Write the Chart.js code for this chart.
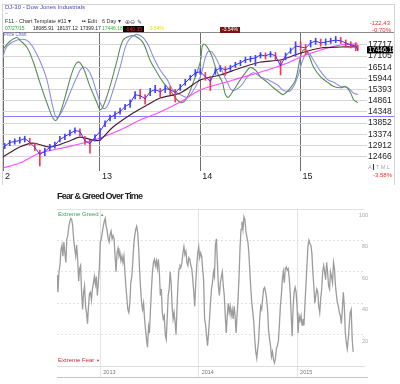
<!DOCTYPE html>
<html>
<head>
<meta charset="utf-8">
<script src="https://cdn.jsdelivr.net/npm/chart.js@4.4.1/dist/chart.umd.min.js"></script>
<style>
body { margin: 0; width: 400px; height: 384px; background: #fff; position: relative; overflow: hidden; font-family: "Liberation Sans", Arial, sans-serif; }
canvas { position: absolute; left: 0; }
.t { position: absolute; white-space: nowrap; line-height: 1; }
</style>
</head>
<body>
<canvas id="price" width="400" height="185" style="top:0"></canvas>
<canvas id="fear" width="400" height="184" style="top:200px"></canvas>

<div style="position:absolute;left:2px;top:4px;width:391px;height:180px;border:1px solid #d4d4d4;border-bottom:none"></div>
<div style="position:absolute;left:3px;top:32px;width:391px;border-top:1px solid #8a8a8a"></div>
<div class="t" style="left:5px;top:4.2px;font-size:6px;color:#4a4ac4">DJ-30 - Dow Jones Industrials</div>
<div class="t" style="left:5px;top:11px;font-size:5px;color:#999">~</div>
<div class="t" style="left:5px;top:19.3px;font-size:5.5px;color:#333">F11 - Chart Template #11 ▾</div>
<div class="t" style="left:82px;top:19.3px;font-size:5.5px;color:#333"><b>▪▪</b> Edit</div>
<div class="t" style="left:102px;top:19.3px;font-size:5.5px;color:#333">6 Day ▾</div>
<div class="t" style="left:125px;top:18.8px;font-size:6px;color:#555">⊕⊖ ✎</div>
<div class="t" style="left:5px;top:26.4px;font-size:5px;color:#22a022">07/27/15</div>
<div class="t" style="left:33px;top:26.4px;font-size:5px;color:#222">18085.91</div>
<div class="t" style="left:57px;top:26.4px;font-size:5px;color:#222">18137.12</div>
<div class="t" style="left:80px;top:26.4px;font-size:5px;color:#222">17399.17</div>
<div class="t" style="left:102px;top:26.4px;font-size:5px;color:#2cb82c">17446.18</div>
<div class="t" style="left:123px;top:26px;font-size:5px;color:#ff2a2a;background:#000;padding:0.5px 2px">-640.35</div>
<div class="t" style="left:148px;top:26.4px;font-size:5px;color:#e4e400">-3.54%</div>
<div class="t" style="left:220px;top:26.8px;font-size:5px;color:#fff;background:#7a1414;padding:0.5px 2px">-3.54%</div>
<div class="t" style="right:10px;top:20.2px;font-size:6px;color:#ff2a2a">-122.43</div>
<div class="t" style="right:9px;top:27.2px;font-size:6px;color:#ff2a2a">-0.70%</div>
<div class="t" style="left:4px;top:32.8px;font-size:4.5px;color:#6060d0">Price Chart</div>
<div class="t" style="left:368px;top:164.5px;font-size:5.5px;color:#aaa">A <span style="background:#2222ff;color:#2222ff">I</span> T M L</div>
<div class="t" style="right:8px;top:172.2px;font-size:6px;color:#ff2a2a">-3.58%</div>

<div class="t" style="left:57px;top:191.8px;font-size:9px;font-weight:bold;letter-spacing:-0.8px;color:#222">Fear &amp; Greed Over Time</div>
<div class="t" style="left:58px;top:211.2px;font-size:6px;color:#3aa35a">Extreme Greed <span style="font-size:4px">▲</span></div>
<div class="t" style="left:58px;top:357.2px;font-size:6px;color:#d0283c">Extreme Fear <span style="font-size:4px">▼</span></div>
<div style="position:absolute;left:57px;top:376.5px;width:311px;border-top:1.5px solid #c4c4c4"></div>

<script>
// Dow Jones Industrials, 6-day bars
const priceYears = [2012.05, 2012.10, 2012.15, 2012.20, 2012.25, 2012.30, 2012.35, 2012.40, 2012.45, 2012.50, 2012.55, 2012.60, 2012.65, 2012.70, 2012.75, 2012.80, 2012.85, 2012.90, 2012.95,
  2013.00, 2013.05, 2013.10, 2013.15, 2013.20, 2013.25, 2013.30, 2013.35, 2013.40, 2013.45, 2013.50, 2013.55, 2013.60, 2013.65, 2013.70, 2013.75, 2013.80, 2013.85, 2013.90, 2013.95,
  2014.00, 2014.05, 2014.10, 2014.15, 2014.20, 2014.25, 2014.30, 2014.35, 2014.40, 2014.45, 2014.50, 2014.55, 2014.60, 2014.65, 2014.70, 2014.75, 2014.80, 2014.85, 2014.90, 2014.95,
  2015.00, 2015.05, 2015.10, 2015.15, 2015.20, 2015.25, 2015.30, 2015.35, 2015.40, 2015.45, 2015.50, 2015.55, 2015.57];
const priceClose = [12880, 13030, 13070, 13110, 13195, 13030, 12830, 12550, 12670, 12830, 12910, 13150, 13280, 13400, 13530, 13490, 13100, 12980, 13250,
  13490, 13830, 14090, 14230, 14360, 14590, 14730, 15150, 15100, 14960, 15290, 15390, 15290, 15440, 15390, 15250, 15490, 15730, 15980, 16230,
  16280, 16030, 15800, 16330, 16490, 16380, 16490, 16640, 16750, 16900, 16960, 17010, 17170, 17120, 17230, 17120, 16590, 17120, 17390, 17660,
  17610, 17550, 17830, 17940, 17830, 17880, 17940, 17990, 17950, 17830, 17720, 17660, 17446.18];
const priceHigh = [12990, 13120, 13180, 13250, 13290, 13200, 12990, 12720, 12800, 12950, 13050, 13280, 13380, 13550, 13650, 13600, 13280, 13120, 13350,
  13620, 13950, 14200, 14350, 14520, 14700, 14900, 15300, 15400, 15150, 15450, 15600, 15450, 15600, 15550, 15400, 15650, 15900, 16100, 16400,
  16480, 16250, 16050, 16450, 16600, 16550, 16620, 16780, 16880, 17050, 17100, 17150, 17300, 17280, 17350, 17300, 16900, 17280, 17550, 17900,
  17900, 17750, 17980, 18100, 18050, 18060, 18100, 18200, 18150, 18000, 17900, 17850, 17700];
const priceLow = [12780, 12900, 12960, 13000, 13050, 12930, 12700, 12100, 12500, 12700, 12800, 13050, 13150, 13300, 13420, 13300, 12950, 12600, 13080,
  13100, 13700, 13950, 14050, 14250, 14450, 14550, 14950, 14950, 14700, 15100, 15250, 15050, 15250, 15150, 14800, 15350, 15600, 15850, 16050,
  16150, 15850, 15350, 16150, 16300, 16100, 16350, 16500, 16600, 16750, 16800, 16600, 17000, 16950, 17050, 16900, 16120, 16900, 17250, 17100,
  17400, 17200, 17600, 17750, 17650, 17700, 17800, 17850, 17800, 17600, 17550, 17400, 17399.17];

const maSlowYears = [2012.03, 2012.20, 2012.33, 2012.50, 2012.67, 2012.80, 2012.93, 2013.00, 2013.13, 2013.33, 2013.47, 2013.60, 2013.80, 2014.00, 2014.20, 2014.40, 2014.60, 2014.80, 2015.00, 2015.20, 2015.40, 2015.57];
const maSlow = [12445, 12844, 13006, 12844, 13048, 13255, 13130, 13130, 13680, 14299, 14664, 14992, 15230, 15867, 16119, 16478, 16793, 16899, 17276, 17550, 17606, 17606];
const maLongYears = [2012.03, 2012.20, 2012.40, 2012.67, 2012.87, 2013.00, 2013.20, 2013.40, 2013.60, 2013.80, 2014.00, 2014.33, 2014.67, 2014.87, 2015.00, 2015.20, 2015.40, 2015.57];
const maLong = [12023, 12212, 12603, 12844, 13048, 13213, 13551, 13986, 14344, 14800, 15374, 15867, 16375, 16740, 17060, 17440, 17717, 17773];

const oscGreenYears = [2012.03, 2012.10, 2012.17, 2012.20, 2012.27, 2012.33, 2012.40, 2012.47, 2012.55, 2012.60, 2012.67, 2012.73, 2012.78, 2012.83, 2012.90, 2012.97,
  2013.00, 2013.03, 2013.10, 2013.17, 2013.23, 2013.30, 2013.35, 2013.43, 2013.50, 2013.57, 2013.63, 2013.70, 2013.77, 2013.82, 2013.87, 2013.93,
  2014.00, 2014.03, 2014.10, 2014.17, 2014.22, 2014.25, 2014.28, 2014.33, 2014.40, 2014.47, 2014.50, 2014.55, 2014.60, 2014.67, 2014.73, 2014.80, 2014.83, 2014.90, 2014.95,
  2015.00, 2015.03, 2015.07, 2015.13, 2015.20, 2015.27, 2015.33, 2015.40, 2015.45, 2015.50, 2015.53, 2015.57];
const oscGreen = [87, 93, 96, 94, 89, 79, 63, 48, 35, 40, 57, 72, 78, 74, 60, 48,
  43, 45, 60, 79, 94, 97, 97, 92, 79, 70, 63, 57, 50, 48, 52, 63,
  78, 91, 85, 70, 63, 54, 52, 57, 65, 72, 74, 72, 67, 63, 59, 55, 54, 59, 65,
  82, 87, 85, 74, 67, 63, 60, 59, 60, 55, 50, 48];
const oscPurpleYears = [2012.03, 2012.07, 2012.17, 2012.27, 2012.33, 2012.40, 2012.47, 2012.53, 2012.57, 2012.63, 2012.70, 2012.77, 2012.83, 2012.90, 2012.97,
  2013.03, 2013.07, 2013.13, 2013.20, 2013.27, 2013.35, 2013.41, 2013.47, 2013.53, 2013.60, 2013.67, 2013.73, 2013.80, 2013.87, 2013.93,
  2014.00, 2014.07, 2014.12, 2014.20, 2014.27, 2014.32, 2014.40, 2014.47, 2014.53, 2014.60, 2014.67, 2014.77, 2014.83, 2014.90, 2014.97,
  2015.02, 2015.07, 2015.13, 2015.20, 2015.27, 2015.33, 2015.40, 2015.47, 2015.53, 2015.57];
const oscPurple = [81, 89, 94, 94, 89, 79, 65, 45, 37, 43, 55, 67, 74, 70, 55,
  44, 45, 57, 74, 92, 98, 97, 92, 82, 72, 65, 57, 54, 52, 57,
  67, 85, 85, 74, 63, 57, 60, 67, 70, 67, 65, 61, 57, 57, 67,
  79, 85, 79, 71, 65, 63, 60, 59, 55, 54];
const oscRefLevel = 38;

const priceTicks = [12466, 12912, 13374, 13852, 14348, 14861, 15393, 15944, 16514, 17105, 17717];
const yearTicks = [2013, 2014, 2015];

// CNN Fear & Greed index, one reading every 0.01 year from mid 2012
const fgStartYear = 2012.56;
const fgStepYear = 0.01;
const fgValues = [
  58, 47, 60, 64, 74, 77, 70, 79, 72, 66,
  81, 83, 89, 92, 94, 93, 89, 80, 75, 70,
  77, 68, 54, 62, 64, 47, 36, 47, 51, 38,
  34, 27, 38, 46, 47, 42, 49, 53, 57, 52,
  57, 45, 53, 62, 79, 81, 85, 89, 92, 94,
  89, 86, 81, 79, 84, 86, 81, 83, 81, 70,
  60, 72, 75, 70, 72, 67, 70, 66, 70, 60,
  51, 43, 36, 34, 40, 53, 57, 66, 77, 83,
  87, 89, 85, 75, 60, 49, 40, 36, 40, 30,
  23, 17, 12, 25, 21, 36, 49, 60, 66, 68,
  64, 67, 62, 68, 60, 45, 49, 34, 30, 32,
  20, 17, 30, 45, 49, 60, 53, 38, 30, 34,
  28, 20, 38, 53, 62, 64, 63, 66, 72, 76,
  71, 73, 66, 64, 69, 68, 64, 62, 55, 47,
  38, 53, 64, 72, 76, 69, 72, 70, 62, 55,
  30, 26, 19, 13, 21, 30, 40, 49, 53, 60,
  57, 77, 81, 66, 51, 45, 53, 57, 60, 51,
  45, 32, 21, 32, 40, 34, 38, 32, 36, 30,
  38, 32, 21, 32, 43, 57, 75, 87, 92, 87,
  95, 93, 86, 82, 79, 72, 60, 49, 40, 34,
  28, 17, 9, 5, 11, 17, 30, 38, 36, 43,
  49, 50, 47, 43, 36, 23, 17, 13, 6, 9,
  4, 2, 5, 11, 13, 16, 26, 38, 45, 55,
  60, 53, 62, 63, 61, 62, 56, 47, 32, 19,
  38, 47, 50, 47, 38, 21, 32, 29, 32, 26,
  30, 26, 40, 51, 64, 76, 80, 78, 77, 72,
  60, 51, 40, 45, 49, 47, 38, 34, 43, 49,
  60, 64, 60, 55, 66, 60, 51, 49, 60, 57,
  53, 66, 62, 51, 45, 40, 38, 34, 32, 27,
  36, 47, 38, 21, 15, 11, 17, 26, 34, 36,
  17, 9];
const fgTicks = [0, 20, 40, 60, 80, 100];

Chart.defaults.font.family = '"Liberation Sans", Arial, sans-serif';
Chart.defaults.animation = false;

function pairs(xs, ys) {
  return ys.map((v, i) => ({ x: xs[i], y: v }));
}

const refLine = {
  id: 'refLine',
  beforeDatasetsDraw(chart) {
    const c = chart.ctx;
    const y = Math.round(chart.scales.osc.getPixelForValue(oscRefLevel)) + 0.5;
    c.save();
    c.strokeStyle = '#8282ff';
    c.lineWidth = 1;
    c.beginPath();
    c.moveTo(chart.chartArea.left, y);
    c.lineTo(chart.width - 6, y);
    c.stroke();
    c.restore();
  }
};

const lastPrice = {
  id: 'lastPrice',
  afterDraw(chart) {
    const c = chart.ctx;
    const last = priceClose[priceClose.length - 1];
    const y = chart.scales.y.getPixelForValue(last);
    const x = chart.chartArea.right;
    c.save();
    c.fillStyle = '#000';
    c.fillRect(x, y - 3.5, 26, 7);
    c.fillStyle = '#fff';
    c.font = '6.5px "Liberation Sans"';
    c.textBaseline = 'middle';
    c.fillText(last.toFixed(2), x + 1.5, y + 0.5);
    c.restore();
  }
};

// x labels of the lower chart sit between the zero line and the bottom rule
const yearLabels = {
  id: 'yearLabels',
  afterDraw(chart) {
    const c = chart.ctx;
    const xs = chart.scales.x;
    c.save();
    c.fillStyle = '#777';
    c.font = '5.5px "Liberation Sans"';
    c.textBaseline = 'middle';
    yearTicks.forEach(v => c.fillText(String(v), xs.getPixelForValue(v) + 3, chart.chartArea.bottom + 6));
    c.restore();
  }
};

const barColors = priceClose.map((v, i) => (i > 0 && v < priceClose[i - 1]) ? '#ff3358' : '#4444ff');

new Chart('price', {
  type: 'bar',
  data: {
    datasets: [
      { type: 'line', data: pairs(priceYears, priceClose), borderColor: '#3434ff', borderWidth: 1, pointRadius: 0, yAxisID: 'y' },
      { type: 'bar', data: priceLow.map((v, i) => ({ x: priceYears[i], y: [v, priceHigh[i]] })), backgroundColor: barColors, barThickness: 1, yAxisID: 'y' },
      { type: 'line', data: pairs(maSlowYears, maSlow), borderColor: '#4a1f2c', borderWidth: 1.2, pointRadius: 0, tension: 0.3, yAxisID: 'y' },
      { type: 'line', data: pairs(maLongYears, maLong), borderColor: '#ff4cff', borderWidth: 1.2, pointRadius: 0, tension: 0.3, yAxisID: 'y' },
      { type: 'line', data: pairs(oscGreenYears, oscGreen), borderColor: '#5a8e5a', borderWidth: 1.1, pointRadius: 0, tension: 0.4, yAxisID: 'osc' },
      { type: 'line', data: pairs(oscPurpleYears, oscPurple), borderColor: '#8e8ee8', borderWidth: 1.1, pointRadius: 0, tension: 0.4, yAxisID: 'osc' }
    ]
  },
  options: {
    responsive: false,
    devicePixelRatio: 1,
    layout: { padding: { left: 3, right: 0, top: 32, bottom: 2 } },
    plugins: { legend: { display: false }, tooltip: { enabled: false } },
    scales: {
      x: {
        type: 'linear', min: 2012.033, max: 2015.662, offset: false,
        afterBuildTicks: s => { s.ticks = [2012.033].concat(yearTicks).map(v => ({ value: v })); },
        afterFit: s => { s.height = 15; },
        ticks: { autoSkip: false, maxRotation: 0, align: 'start', labelOffset: 2, padding: 0, color: '#222', font: { size: 9 },
          callback: v => v < 2013 ? '2' : String(v).slice(2) },
        grid: { color: '#6e6e6e', tickLength: 3, offset: false },
        border: { display: false }
      },
      y: {
        type: 'logarithmic', position: 'right', min: 12023, max: 18457,
        afterBuildTicks: s => { s.ticks = priceTicks.map(v => ({ value: v })); },
        afterFit: s => { s.width = 33; },
        ticks: { padding: 1, color: '#222', font: { size: 8.5 }, callback: v => String(v) },
        grid: { color: '#d6d6d6', drawTicks: false },
        border: { display: false }
      },
      osc: { type: 'linear', display: false, min: 0, max: 100 }
    }
  },
  plugins: [refLine, lastPrice]
});

new Chart('fear', {
  type: 'line',
  data: {
    datasets: [{
      data: fgValues.map((v, i) => ({ x: fgStartYear + i * fgStepYear, y: v })),
      borderColor: '#9c9c9c', borderWidth: 1.3, pointRadius: 0, tension: 0
    }]
  },
  options: {
    responsive: false,
    devicePixelRatio: 1,
    layout: { padding: { left: 57, right: 28, top: 9, bottom: 7 } },
    plugins: { legend: { display: false }, tooltip: { enabled: false } },
    scales: {
      x: {
        type: 'linear', min: 2012.56, max: 2015.68,
        afterBuildTicks: s => { s.ticks = yearTicks.map(v => ({ value: v })); },
        afterFit: s => { s.height = 11; },
        ticks: { display: false },
        grid: { color: '#e4e4e4', tickLength: 11 },
        border: { display: true, color: '#dedede' }
      },
      y: {
        position: 'right', min: 0, max: 100,
        afterBuildTicks: s => { s.ticks = fgTicks.map(v => ({ value: v })); },
        ticks: { mirror: true, padding: 4, labelOffset: 6.5, color: '#aaa', font: { size: 5.5 },
          callback: v => v === 0 ? '' : String(v) },
        grid: { drawTicks: false, color: c => (c.tick && c.tick.value === 0) ? 'rgba(0,0,0,0)' : '#e2e2e2' },
        border: { display: false, dash: c => (c.tick && c.tick.value === 100) ? [] : [2, 2] }
      }
    }
  },
  plugins: [yearLabels]
});
</script>
</body>
</html>
